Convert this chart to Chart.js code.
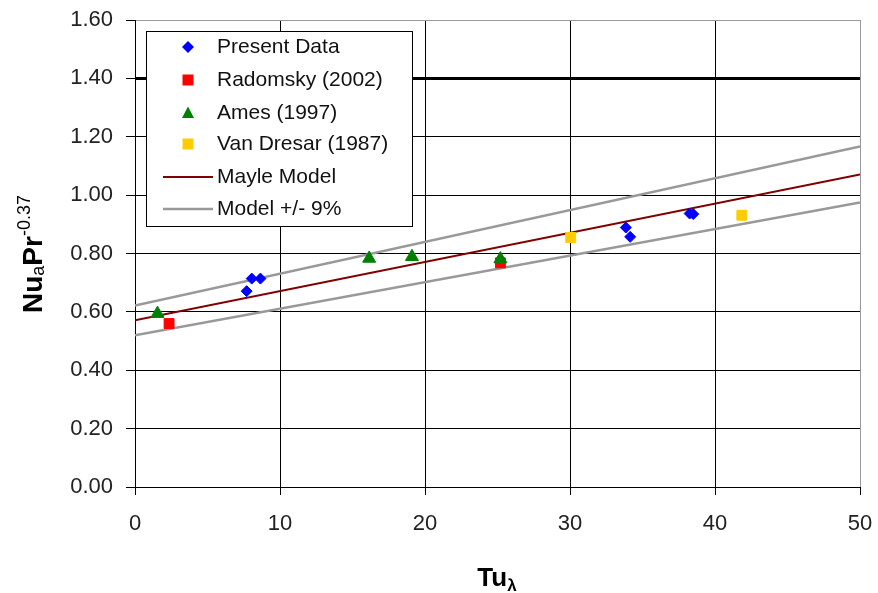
<!DOCTYPE html>
<html>
<head>
<meta charset="utf-8">
<title>Nu vs Tu</title>
<script src="https://cdn.jsdelivr.net/npm/chart.js@4.4.1/dist/chart.umd.min.js"></script>
<style>
    html, body { margin: 0; padding: 0; background: #fff; }
    #nuChart { display: block; }
</style>
</head>
<body>
<canvas id="nuChart" width="878" height="593"></canvas>
<script>
// Measured data
const presentTu = [7.7, 8.05, 8.65, 33.85, 34.15, 38.25, 38.5];
const presentNu = [0.671, 0.714, 0.714, 0.889, 0.857, 0.937, 0.935];

const radomskyTu = [2.35, 25.2];
const radomskyNu = [0.560, 0.768];

const amesTu = [1.55, 16.15, 19.1, 25.2];
const amesNu = [0.594, 0.783, 0.789, 0.781];

const vanDresarTu = [30.05, 41.85];
const vanDresarNu = [0.855, 0.931];

// Mayle model line and the +/- 9% band
const modelTu = [0, 50];
const mayleNu = [0.571, 1.071];
const upperNu = [0.622, 1.167];
const lowerNu = [0.520, 0.975];

const xTicks = [0, 10, 20, 30, 40, 50];
const yTicks = [0, 0.2, 0.4, 0.6, 0.8, 1.0, 1.2, 1.4, 1.6];

const legendLabels = ['Present Data', 'Radomsky (2002)', 'Ames (1997)', 'Van Dresar (1987)', 'Mayle Model', 'Model +/- 9%'];

const FONT = "'Liberation Sans', Arial, sans-serif";

function toPoints(xs, ys) {
    return xs.map((x, i) => ({ x: x, y: ys[i] }));
}

function pointSet(label, xs, ys, color, style, radius) {
    return {
        label: label,
        data: toPoints(xs, ys),
        showLine: false,
        pointStyle: style,
        pointRadius: radius,
        pointBackgroundColor: color,
        pointBorderColor: color,
        pointBorderWidth: 1,
        backgroundColor: color,
        borderColor: color
    };
}

function lineSet(label, ys, color, width) {
    return {
        label: label,
        data: toPoints(modelTu, ys),
        showLine: true,
        pointRadius: 0,
        borderColor: color,
        borderWidth: width,
        backgroundColor: color,
        fill: false,
        tension: 0
    };
}

const amesSet = pointSet('Ames (1997)', amesTu, amesNu, '#008000', 'triangle', 7.5);
amesSet.order = -1; // triangles sit on top of the squares

const datasets = [
    pointSet('Present Data', presentTu, presentNu, '#0000ff', 'rectRot', 5.5),
    pointSet('Radomsky (2002)', radomskyTu, radomskyNu, '#ff0000', 'rect', 7),
    amesSet,
    pointSet('Van Dresar (1987)', vanDresarTu, vanDresarNu, '#ffcc00', 'rect', 7),
    lineSet('Mayle Model', mayleNu, '#800000', 2),
    lineSet('Model +/- 9%', upperNu, '#999999', 2.5),
    lineSet('Model +/- 9% (low)', lowerNu, '#999999', 2.5)
];

function drawMarker(ctx, style, x, y, color) {
    ctx.save();
    ctx.fillStyle = color;
    ctx.beginPath();
    if (style === 'diamond') {
        ctx.moveTo(x, y - 6);
        ctx.lineTo(x + 6, y);
        ctx.lineTo(x, y + 6);
        ctx.lineTo(x - 6, y);
        ctx.closePath();
    } else if (style === 'triangle') {
        ctx.moveTo(x, y - 6.5);
        ctx.lineTo(x + 6, y + 5);
        ctx.lineTo(x - 6, y + 5);
        ctx.closePath();
    } else {
        ctx.rect(x - 5.5, y - 5.5, 11, 11);
    }
    ctx.fill();
    ctx.restore();
}

// Legend box, drawn inside the plot area
const legendPlugin = {
    id: 'boxLegend',
    afterDraw(chart) {
        const ctx = chart.ctx;
        const left = 146, top = 31, right = 412, bottom = 226;
        ctx.save();
        ctx.fillStyle = '#fff';
        ctx.fillRect(left, top, right - left, bottom - top);
        ctx.strokeStyle = '#000';
        ctx.lineWidth = 1;
        ctx.strokeRect(left + 0.5, top + 0.5, right - left, bottom - top);

        const rows = [47, 80, 113, 144, 177, 209];
        const markers = [
            ['diamond', '#0000ff'], ['square', '#ff0000'], ['triangle', '#008000'],
            ['square', '#ffcc00'], ['line', '#800000'], ['line', '#999999']
        ];
        ctx.font = '21px ' + FONT;
        ctx.fillStyle = '#111';
        ctx.textBaseline = 'middle';
        legendLabels.forEach((label, i) => {
            const y = rows[i];
            const m = markers[i];
            if (m[0] === 'line') {
                ctx.strokeStyle = m[1];
                ctx.lineWidth = i === 4 ? 2 : 2.5;
                ctx.beginPath();
                ctx.moveTo(163, y);
                ctx.lineTo(213, y);
                ctx.stroke();
            } else {
                drawMarker(ctx, m[0], 188, y, m[1]);
            }
            ctx.fillStyle = '#111';
            ctx.fillText(label, 217, y);
        });
        ctx.restore();
    }
};

// Axis titles with sub/superscripts
const titlePlugin = {
    id: 'axisTitles',
    afterDraw(chart) {
        const ctx = chart.ctx;
        ctx.save();
        ctx.fillStyle = '#000';
        ctx.textBaseline = 'alphabetic';

        // x title: Tu with lambda subscript
        const bigX = 'bold 26px ' + FONT;
        const smallX = 'bold 17px ' + FONT;
        ctx.font = bigX;
        const wTu = ctx.measureText('Tu').width;
        ctx.font = smallX;
        const wL = ctx.measureText('λ').width;
        let x0 = 497 - (wTu + wL) / 2;
        ctx.font = bigX;
        ctx.fillText('Tu', x0, 586);
        ctx.font = smallX;
        ctx.fillText('λ', x0 + wTu, 591);

        // y title: Nu_a Pr^-0.37, rotated
        const parts = [
            { t: 'Nu', f: 'bold 28px ' + FONT, dy: 0 },
            { t: 'a', f: '18px ' + FONT, dy: 2 },
            { t: 'Pr', f: 'bold 28px ' + FONT, dy: 0 },
            { t: '-0.37', f: '18px ' + FONT, dy: -12 }
        ];
        let total = 0;
        parts.forEach(p => { ctx.font = p.f; p.w = ctx.measureText(p.t).width; total += p.w; });
        ctx.translate(42, 254);
        ctx.rotate(-Math.PI / 2);
        let px = -total / 2;
        parts.forEach(p => {
            ctx.font = p.f;
            ctx.fillText(p.t, px, p.dy);
            px += p.w;
        });
        ctx.restore();
    }
};

function isValue(v, target) {
    return Math.abs(v - target) < 1e-6;
}

// keep the plot area fixed: no extra room for edge labels
function fixBox(s, size) {
    if (s.isHorizontal()) s.height = size; else s.width = size;
    s.paddingLeft = 0;
    s.paddingRight = 0;
    s.paddingTop = 0;
    s.paddingBottom = 0;
}

const ctx = document.getElementById('nuChart').getContext('2d');
const chart = new Chart(ctx, {
    type: 'scatter',
    data: { datasets: datasets },
    options: {
        responsive: false,
        animation: false,
        events: [],
        layout: { padding: { top: 20, right: 18, left: 0, bottom: 0 } },
        plugins: {
            legend: { display: false },
            tooltip: { enabled: false }
        },
        scales: {
            x: {
                type: 'linear',
                min: xTicks[0],
                max: xTicks[xTicks.length - 1],
                afterBuildTicks: s => { s.ticks = xTicks.map(v => ({ value: v })); },
                afterFit: s => fixBox(s, 106),
                border: { color: '#000', width: 1 },
                grid: {
                    color: c => (c.tick && isValue(c.tick.value, 50)) ? '#999' : '#000',
                    lineWidth: 1,
                    tickColor: '#000',
                    tickLength: 8,
                    tickWidth: 1
                },
                ticks: {
                    color: '#222',
                    font: { family: FONT, size: 22 },
                    padding: 16,
                    maxRotation: 0
                }
            },
            y: {
                type: 'linear',
                min: yTicks[0],
                max: yTicks[yTicks.length - 1],
                afterBuildTicks: s => { s.ticks = yTicks.map(v => ({ value: v })); },
                afterFit: s => fixBox(s, 135),
                border: { color: '#000', width: 1 },
                grid: {
                    color: c => (c.tick && isValue(c.tick.value, 1.6)) ? '#999' : '#000',
                    lineWidth: c => (c.tick && isValue(c.tick.value, 1.4)) ? 3 : 1,
                    tickColor: '#000',
                    tickLength: 9,
                    tickWidth: 1
                },
                ticks: {
                    color: '#222',
                    font: { family: FONT, size: 22 },
                    padding: 13,
                    callback: v => Number(v).toFixed(2)
                }
            }
        }
    },
    plugins: [legendPlugin, titlePlugin]
});
</script>
</body>
</html>
